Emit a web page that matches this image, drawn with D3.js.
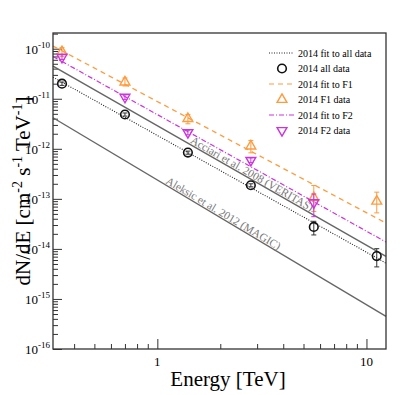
<!DOCTYPE html>
<html>
<head>
<meta charset="utf-8">
<script src="https://cdn.jsdelivr.net/npm/d3@7"></script>
<style>
  body { margin: 0; background: #fff; }
  svg { display: block; font-family: "Liberation Serif", "DejaVu Serif", serif; }
</style>
</head>
<body>
<div id="chart"></div>
<script>
// energies of the 2014 data points (TeV)
const energy = [0.35, 0.70, 1.40, 2.80, 5.60, 11.2];

// 2014 all data
const allFlux = [2.0e-11, 4.85e-12, 8.4e-13, 1.87e-13, 2.75e-14, 7.2e-15];
const allHi   = [2.15e-11, 5.2e-12, 9.0e-13, 2.0e-13, 3.56e-14, 1.01e-14];
const allLo   = [1.85e-11, 4.5e-12, 7.8e-13, 1.74e-13, 1.9e-14, 4.37e-15];

// 2014 F1 data
const f1Flux = [8.7e-11, 2.15e-11, 4.0e-12, 1.13e-12, 1.05e-13, 8.95e-14];
const f1Hi   = [1.05e-10, 2.6e-11, 4.85e-12, 1.47e-12, 1.85e-13, 1.36e-13];
const f1Lo   = [7.0e-11, 1.8e-11, 3.16e-12, 8.3e-13, 5.6e-14, 5.25e-14];

// 2014 F2 data (no point at the last energy)
const f2Flux = [6.8e-11, 1.08e-11, 2.12e-12, 5.9e-13, 8.4e-14];
const f2Hi   = [7.6e-11, 1.2e-11, 2.35e-12, 6.6e-13, 1.25e-13];
const f2Lo   = [6.1e-11, 9.7e-12, 1.9e-12, 5.3e-13, 4.4e-14];

// fitted power laws, flux at the two ends of the energy range
const lineE   = [0.317, 12.4];
const fitAll  = [2.70e-11, 5.2e-15];
const fitF1   = [1.13e-10, 3.28e-14];
const fitF2   = [7.0e-11, 1.37e-14];
const veritas = [4.49e-11, 7.08e-15];
const magic   = [4.17e-12, 4.47e-16];

const xMajor = [1, 10];
const xMinor = [0.4, 0.5, 0.6, 0.7, 0.8, 0.9, 2, 3, 4, 5, 6, 7, 8, 9];
const yExp = [-10, -11, -12, -13, -14, -15, -16];

const orange = '#ff9a3d';
const magenta = '#cc33dd';
const gray = '#666';

const width = 416, height = 395;
const m = { left: 53, right: 386, top: 33, bottom: 349 };

const svg = d3.select('#chart').append('svg')
    .attr('width', width)
    .attr('height', height);

const x = d3.scaleLog().domain([0.317, 12.4]).range([m.left, m.right]);
const y = d3.scaleLog().domain([1e-16, 2.06e-10]).range([m.bottom, m.top]);

// axes, ticks drawn inward
const yMinor = [];
yExp.forEach(e => {
    for (let k = 2; k <= 9; k++) {
        const v = k * Math.pow(10, e);
        if (v <= y.domain()[1]) yMinor.push(v);
    }
});

function styleAxis(g) {
    g.select('.domain').remove();
    g.selectAll('line').attr('stroke', '#333').attr('stroke-width', 1);
    g.selectAll('text').remove();
}

svg.append('g').attr('transform', `translate(${m.left},0)`)
    .call(d3.axisLeft(y).tickValues(yMinor).tickSize(-5)).call(styleAxis);
svg.append('g').attr('transform', `translate(${m.left},0)`)
    .call(d3.axisLeft(y).tickValues(yExp.map(e => Math.pow(10, e))).tickSize(-9)).call(styleAxis);
svg.append('g').attr('transform', `translate(0,${m.bottom})`)
    .call(d3.axisBottom(x).tickValues(xMinor).tickSize(-5)).call(styleAxis);
svg.append('g').attr('transform', `translate(0,${m.bottom})`)
    .call(d3.axisBottom(x).tickValues(xMajor).tickSize(-10)).call(styleAxis);

// tick labels
yExp.forEach(e => {
    const t = svg.append('text')
        .attr('x', m.left - 3)
        .attr('y', y(Math.pow(10, e)) + 5)
        .attr('text-anchor', 'end')
        .attr('font-size', 13);
    t.append('tspan').text('10');
    t.append('tspan').attr('dy', -6).attr('font-size', 9).text('-' + Math.abs(e));
});
xMajor.forEach(v => {
    svg.append('text')
        .attr('x', x(v))
        .attr('y', 366)
        .attr('text-anchor', 'middle')
        .attr('font-size', 13)
        .text(v);
});

// axis titles
svg.append('text')
    .attr('x', 228).attr('y', 386)
    .attr('text-anchor', 'middle')
    .attr('font-size', 21)
    .text('Energy [TeV]');

const yt = svg.append('text')
    .attr('transform', 'translate(30,191) rotate(-90)')
    .attr('text-anchor', 'middle')
    .attr('font-size', 21);
yt.append('tspan').text('dN/dE [cm');
yt.append('tspan').attr('dy', -8).attr('font-size', 14).text('-2');
yt.append('tspan').attr('dy', 8).text(' s');
yt.append('tspan').attr('dy', -8).attr('font-size', 14).text('-1');
yt.append('tspan').attr('dy', 8).text(' TeV');
yt.append('tspan').attr('dy', -8).attr('font-size', 14).text('-1');
yt.append('tspan').attr('dy', 8).text(']');

// lines
const line = d3.line().x(d => x(d[0])).y(d => y(d[1]));
function drawLine(vals, color, dash, w) {
    svg.append('path')
        .attr('d', line(lineE.map((e, i) => [e, vals[i]])))
        .attr('fill', 'none')
        .attr('stroke', color)
        .attr('stroke-width', w)
        .attr('stroke-dasharray', dash);
}
drawLine(magic, gray, null, 1.4);
drawLine(veritas, gray, null, 1.4);
drawLine(fitAll, '#222', '1,1.5', 1.1);
drawLine(fitF2, magenta, '5,2,1,2', 1.2);
drawLine(fitF1, orange, '5,4', 1.3);

// labels along the reference lines
function lineLabel(vals, eStart, label) {
    const x0 = x(lineE[0]), y0 = y(vals[0]);
    const x1 = x(lineE[1]), y1 = y(vals[1]);
    const ang = Math.atan2(y1 - y0, x1 - x0) * 180 / Math.PI;
    const px = x(eStart);
    const py = y0 + (y1 - y0) * (px - x0) / (x1 - x0);
    svg.append('text')
        .attr('transform', `translate(${px},${py}) rotate(${ang}) translate(0,-1.5)`)
        .attr('font-size', 11.2)
        .attr('fill', '#777')
        .text(label);
}
lineLabel(veritas, 1.416, 'Acciari et al. 2008 (VERITAS)');
lineLabel(magic, 1.08, 'Aleksic et al. 2012 (MAGIC)');

// markers
const triUp = d3.symbol(d3.symbolTriangle, 42);
function drawSeries(flux, hi, lo, color, kind) {
    const g = svg.append('g');
    flux.forEach((f, i) => {
        const cx = x(energy[i]);
        g.append('line')
            .attr('x1', cx).attr('x2', cx)
            .attr('y1', y(hi[i])).attr('y2', y(lo[i]))
            .attr('stroke', color).attr('stroke-width', 1);
        [hi[i], lo[i]].forEach(v => {
            g.append('line')
                .attr('x1', cx - 2.5).attr('x2', cx + 2.5)
                .attr('y1', y(v)).attr('y2', y(v))
                .attr('stroke', color).attr('stroke-width', 1);
        });
        drawMarker(g, cx, y(f), color, kind);
    });
}
function drawMarker(g, cx, cy, color, kind) {
    if (kind === 'circle') {
        g.append('circle')
            .attr('cx', cx).attr('cy', cy).attr('r', 4.3)
            .attr('fill', '#fff').attr('fill-opacity', 0)
            .attr('stroke', '#111').attr('stroke-width', 1.6);
    } else {
        g.append('path')
            .attr('d', triUp())
            .attr('transform', `translate(${cx},${cy}) rotate(${kind === 'down' ? 180 : 0})`)
            .attr('fill', 'none')
            .attr('stroke', color).attr('stroke-width', 1.4);
    }
}
drawSeries(allFlux, allHi, allLo, '#333', 'circle');
drawSeries(f1Flux, f1Hi, f1Lo, orange, 'up');
drawSeries(f2Flux, f2Hi, f2Lo, magenta, 'down');

// legend
const legend = [
    { label: '2014 fit to all data', type: 'line', color: '#222', dash: '1,1.5' },
    { label: '2014 all data', type: 'circle', color: '#111' },
    { label: '2014 fit to F1', type: 'line', color: orange, dash: '5,4' },
    { label: '2014 F1 data', type: 'up', color: orange },
    { label: '2014 fit to F2', type: 'line', color: magenta, dash: '5,2,1,2' },
    { label: '2014 F2 data', type: 'down', color: magenta }
];
const lg = svg.append('g');
legend.forEach((d, i) => {
    const ly = 53 + i * 15.5;
    if (d.type === 'line') {
        lg.append('line')
            .attr('x1', 269).attr('x2', 294)
            .attr('y1', ly).attr('y2', ly)
            .attr('stroke', d.color).attr('stroke-width', 1.2)
            .attr('stroke-dasharray', d.dash);
    } else {
        drawMarker(lg, 282, ly, d.color, d.type);
    }
    lg.append('text')
        .attr('x', 298).attr('y', ly + 3.5)
        .attr('font-size', 10)
        .text(d.label);
});

// frame
svg.append('rect')
    .attr('x', m.left).attr('y', m.top)
    .attr('width', m.right - m.left).attr('height', m.bottom - m.top)
    .attr('fill', 'none')
    .attr('stroke', '#333').attr('stroke-width', 1.3);
</script>
</body>
</html>
